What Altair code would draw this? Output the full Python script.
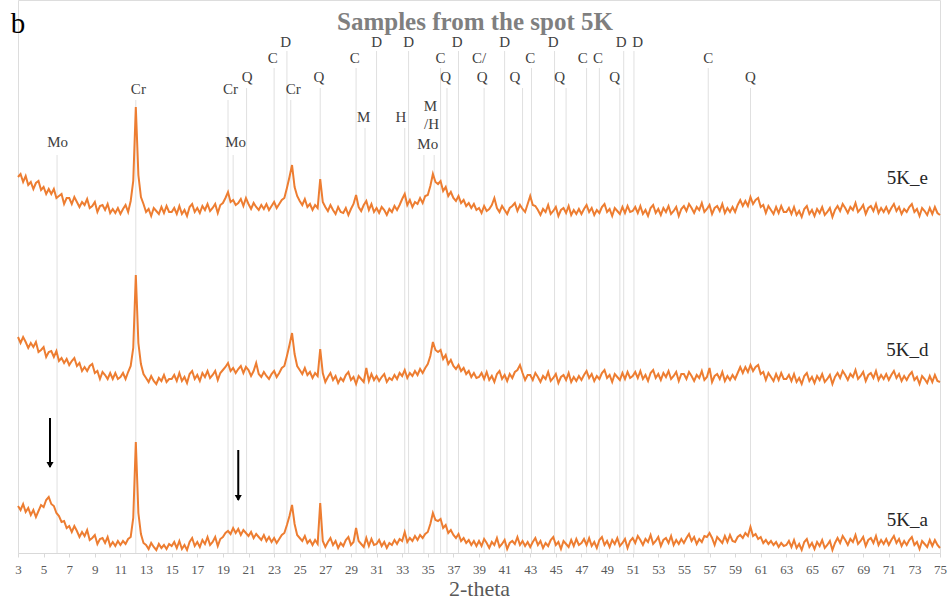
import altair as alt
import pandas as pd

# ---------------- data ----------------
theta_start = 3.0
theta_step = 0.2
n_points = 361
two_theta = [round(theta_start + theta_step * i, 1) for i in range(n_points)]

# intensities (arbitrary units, traces offset as in the figure), one value per 0.2 deg
e_vals = [
    376, 379, 371, 377, 368, 371, 364, 370, 372, 363, 366, 359, 364, 359, 364, 355, 357, 359, 349, 355,
    355, 349, 356, 351, 346, 351, 348, 354, 345, 347, 351, 341, 347, 348, 343, 349, 340, 344, 340, 345,
    339, 344, 348, 341, 352, 372, 446, 378, 356, 349, 341, 344, 337, 345, 342, 339, 346, 340, 347, 341,
    341, 345, 339, 347, 339, 343, 337, 346, 349, 341, 345, 340, 347, 343, 349, 342, 345, 349, 340, 348,
    350, 355, 361, 351, 353, 348, 350, 354, 347, 355, 349, 344, 350, 346, 343, 348, 344, 349, 343, 347,
    351, 345, 349, 353, 355, 365, 376, 388, 366, 357, 352, 348, 354, 346, 349, 343, 348, 345, 374, 351,
    346, 342, 348, 343, 339, 346, 341, 340, 345, 338, 344, 349, 358, 346, 342, 348, 352, 343, 349, 341,
    345, 340, 346, 343, 338, 344, 341, 347, 343, 348, 354, 359, 348, 353, 346, 351, 349, 355, 350, 357,
    358, 367, 379, 371, 369, 372, 362, 366, 357, 361, 355, 352, 357, 350, 353, 347, 350, 345, 349, 343,
    345, 340, 347, 342, 344, 348, 355, 345, 341, 347, 343, 339, 345, 347, 350, 342, 348, 344, 341, 349,
    357, 348, 347, 343, 338, 344, 341, 348, 339, 342, 346, 337, 343, 345, 340, 347, 338, 343, 339, 344,
    339, 344, 348, 341, 345, 338, 343, 340, 346, 349, 341, 344, 337, 345, 342, 339, 346, 340, 347, 341,
    342, 346, 340, 347, 339, 343, 337, 345, 348, 340, 344, 338, 345, 341, 347, 339, 342, 346, 337, 344,
    347, 342, 349, 345, 340, 346, 343, 350, 341, 344, 348, 339, 345, 347, 342, 349, 340, 345, 341, 346,
    341, 348, 353, 347, 352, 347, 356, 349, 353, 355, 346, 348, 340, 347, 343, 339, 346, 340, 347, 341,
    341, 345, 339, 346, 338, 342, 336, 344, 347, 339, 343, 337, 344, 340, 346, 338, 341, 345, 336, 343,
    347, 342, 349, 345, 340, 346, 343, 350, 341, 344, 348, 339, 345, 347, 342, 349, 340, 345, 341, 346,
    340, 345, 349, 342, 346, 339, 344, 341, 346, 349, 341, 344, 337, 345, 342, 338, 345, 339, 346, 340,
    338,
]
d_vals = [
    216, 210, 216, 211, 205, 210, 206, 211, 201, 203, 206, 196, 201, 202, 196, 202, 192, 195, 190, 194,
    188, 192, 195, 187, 190, 182, 186, 182, 187, 189, 180, 182, 174, 181, 178, 174, 180, 174, 180, 174,
    176, 180, 174, 181, 187, 205, 278, 210, 189, 179, 175, 171, 177, 172, 169, 175, 172, 178, 171, 174,
    174, 178, 172, 180, 172, 176, 170, 179, 182, 174, 178, 172, 180, 176, 182, 175, 178, 182, 173, 180,
    183, 186, 190, 182, 185, 180, 184, 187, 180, 186, 183, 177, 182, 190, 179, 176, 181, 177, 174, 179,
    182, 176, 180, 185, 187, 197, 208, 220, 199, 187, 183, 179, 185, 178, 181, 175, 180, 177, 204, 180,
    171, 176, 180, 173, 177, 170, 175, 172, 178, 181, 173, 176, 169, 177, 174, 171, 185, 172, 179, 173,
    177, 172, 176, 179, 171, 175, 173, 178, 174, 180, 177, 183, 175, 180, 177, 182, 178, 184, 180, 185,
    189, 197, 211, 203, 201, 203, 194, 198, 189, 193, 187, 184, 188, 182, 185, 179, 182, 176, 180, 175,
    176, 180, 174, 181, 173, 177, 171, 179, 182, 174, 178, 172, 179, 175, 181, 183, 188, 180, 173, 178,
    178, 173, 180, 176, 171, 177, 174, 181, 172, 175, 179, 170, 176, 178, 173, 180, 171, 176, 172, 177,
    173, 178, 182, 175, 179, 172, 177, 174, 180, 183, 175, 178, 171, 179, 176, 173, 180, 174, 181, 175,
    177, 181, 175, 182, 174, 178, 172, 180, 183, 175, 179, 173, 180, 176, 182, 174, 177, 181, 172, 179,
    179, 174, 181, 177, 172, 178, 175, 182, 173, 176, 185, 171, 177, 179, 174, 181, 172, 177, 173, 178,
    174, 180, 186, 180, 186, 181, 188, 182, 186, 188, 179, 181, 173, 180, 176, 172, 179, 173, 180, 174,
    174, 178, 172, 179, 171, 175, 169, 177, 180, 172, 176, 170, 177, 173, 179, 171, 174, 178, 169, 176,
    180, 175, 182, 178, 173, 179, 176, 183, 174, 177, 181, 172, 178, 180, 175, 182, 173, 178, 174, 179,
    173, 178, 182, 175, 179, 172, 177, 173, 178, 181, 173, 176, 169, 177, 174, 170, 177, 171, 178, 172,
    171,
]
a_vals = [
    47, 43, 49, 41, 45, 38, 43, 36, 42, 48, 46, 53, 56, 49, 47, 40, 37, 31, 32, 25,
    27, 21, 27, 22, 16, 21, 17, 23, 13, 15, 18, 9, 14, 15, 10, 16, 7, 11, 7, 12,
    8, 12, 9, 14, 16, 35, 111, 40, 19, 10, 8, 4, 10, 6, 3, 9, 5, 8, 4, 9,
    7, 11, 5, 12, 4, 8, 3, 11, 15, 7, 11, 6, 13, 9, 16, 8, 11, 16, 7, 14,
    16, 20, 22, 19, 25, 20, 24, 18, 23, 20, 17, 21, 15, 19, 16, 13, 18, 12, 16, 11,
    15, 10, 14, 18, 20, 28, 37, 48, 29, 18, 15, 12, 17, 10, 13, 8, 13, 9, 50, 12,
    6, 11, 15, 8, 12, 5, 10, 7, 13, 16, 8, 11, 25, 12, 9, 6, 15, 7, 14, 8,
    9, 13, 7, 11, 5, 10, 8, 13, 9, 14, 12, 21, 11, 15, 12, 17, 13, 18, 15, 19,
    21, 29, 40, 33, 32, 34, 25, 28, 20, 23, 18, 15, 19, 12, 15, 10, 13, 8, 12, 7,
    12, 7, 14, 10, 5, 11, 8, 15, 6, 9, 13, 4, 10, 12, 9, 16, 8, 12, 7, 11,
    6, 11, 15, 8, 12, 5, 10, 7, 13, 16, 8, 11, 4, 12, 9, 6, 13, 7, 14, 8,
    10, 14, 8, 15, 7, 11, 5, 13, 16, 8, 12, 6, 13, 9, 15, 7, 10, 14, 5, 12,
    15, 10, 17, 13, 8, 14, 11, 18, 9, 12, 16, 7, 13, 15, 10, 17, 8, 13, 9, 14,
    10, 15, 19, 12, 16, 9, 14, 11, 17, 16, 20, 15, 8, 16, 13, 10, 17, 11, 18, 12,
    11, 16, 18, 15, 20, 17, 26, 17, 19, 14, 16, 10, 13, 9, 12, 8, 11, 6, 10, 7,
    8, 12, 6, 13, 5, 9, 3, 11, 14, 6, 10, 4, 11, 7, 13, 5, 8, 12, 3, 10,
    15, 10, 17, 13, 8, 14, 11, 18, 9, 12, 16, 7, 13, 15, 10, 17, 8, 13, 9, 14,
    8, 13, 17, 10, 14, 7, 12, 8, 13, 16, 8, 11, 4, 12, 9, 6, 13, 7, 13, 8,
    5,
]
assert len(e_vals) == n_points and len(d_vals) == n_points and len(a_vals) == n_points

sample_names = ["5K_e", "5K_d", "5K_a"]
sample_label_pos = [72.45, 72.45, 72.45]
sample_label_level = [375, 203, 33]

# reference peak lines (2-theta, top of line)
peak_pos = [6.05, 12.2, 19.4, 19.8, 20.85, 23.0, 24.0, 24.3, 26.6, 29.4, 30.1, 31.0,
            33.2, 33.5, 34.7, 35.5, 36.0, 36.5, 37.4, 39.4, 41.0, 42.4, 43.1, 44.9,
            45.8, 47.4, 48.4, 50.0, 50.3, 51.1, 56.9, 60.2]
peak_top = [398, 453, 453, 398, 465, 485, 502, 453, 465, 485, 425, 502,
            425, 502, 398, 398, 485, 465, 502, 465, 502, 465, 485, 502,
            465, 485, 485, 465, 502, 502, 485, 465]

# mineral labels
label_text = ["Mo", "Cr", "Cr", "Mo", "Q", "C", "D", "Cr", "Q", "C", "M", "D", "H", "D",
              "M", "/H", "Mo", "C", "Q", "D", "C/", "Q", "D", "Q", "C", "D", "Q", "C",
              "C", "Q", "D", "D", "C", "Q"]
label_pos = [6.1, 12.4, 19.6, 20.0, 20.9, 22.9, 23.9, 24.5, 26.5, 29.3, 30.0, 31.0, 32.9, 33.5,
             35.2, 35.3, 35.0, 36.0, 36.4, 37.3, 39.0, 39.25, 41.0, 41.8, 43.0, 44.8, 45.3, 47.1,
             48.3, 49.6, 50.1, 51.4, 56.9, 60.2]
label_level = [411, 464, 464, 411, 476, 495, 511, 464, 476, 495, 436, 511, 436, 511,
               447, 429, 409, 495, 476, 511, 495, 476, 511, 476, 495, 511, 476, 495,
               495, 476, 511, 511, 495, 476]

# arrows (2-theta, tail level, tip level)
arrow_pos = [5.5, 20.2]
arrow_tail = [135, 103]
arrow_tip = [86, 53]

tick_values = list(range(3, 76, 2))

# ---------------- tables ----------------
rows = []
for name, vals in zip(sample_names, [e_vals, d_vals, a_vals]):
    for t, v in zip(two_theta, vals):
        rows.append({"sample": name, "two_theta": t, "intensity": v})
traces = pd.DataFrame(rows)
peaks = pd.DataFrame({"pos": peak_pos, "top": peak_top, "base": [0] * len(peak_pos)})
labels = pd.DataFrame({"text": label_text, "pos": label_pos, "level": label_level})
names = pd.DataFrame({"text": sample_names, "pos": sample_label_pos, "level": sample_label_level})
arrows = pd.DataFrame({"pos": arrow_pos, "tail": arrow_tail, "tip": arrow_tip})

SERIF = "Liberation Serif"
xscale = alt.Scale(domain=[3, 75], nice=False, zero=False)
yscale = alt.Scale(domain=[0, 553], nice=False, zero=False)

xaxis = alt.Axis(values=tick_values, title="2-theta", format="d",
                 labelFont=SERIF, labelFontSize=13, labelColor="#595959",
                 titleFont=SERIF, titleFontSize=22, titleFontWeight="normal",
                 titleColor="#595959", domainColor="#d9d9d9", tickColor="#d9d9d9",
                 tickSize=4, labelPadding=6, titlePadding=2, grid=False,
                 labelOverlap=False, labelFlush=False)

rules = alt.Chart(peaks).mark_rule(color="#e0e0e0", strokeWidth=1).encode(
    x=alt.X("pos:Q", scale=xscale, axis=xaxis),
    y=alt.Y("top:Q", scale=yscale, axis=None),
    y2="base:Q",
)

lines = alt.Chart(traces).mark_line(color="#ED7D31", strokeWidth=2.0).encode(
    x=alt.X("two_theta:Q", scale=xscale, axis=xaxis),
    y=alt.Y("intensity:Q", scale=yscale, axis=None),
    detail="sample:N",
)

mineral = alt.Chart(labels).mark_text(font=SERIF, fontSize=15, color="#404040",
                                      baseline="middle").encode(
    x=alt.X("pos:Q", scale=xscale, axis=xaxis),
    y=alt.Y("level:Q", scale=yscale, axis=None),
    text="text:N",
)

sample_txt = alt.Chart(names).mark_text(font=SERIF, fontSize=19, color="#262626",
                                        baseline="middle").encode(
    x=alt.X("pos:Q", scale=xscale, axis=xaxis),
    y=alt.Y("level:Q", scale=yscale, axis=None),
    text="text:N",
)

arrow_shaft = alt.Chart(arrows).mark_rule(color="black", strokeWidth=2).encode(
    x=alt.X("pos:Q", scale=xscale, axis=xaxis),
    y=alt.Y("tail:Q", scale=yscale, axis=None),
    y2="tip:Q",
)
arrow_head = alt.Chart(arrows).mark_point(shape="triangle-down", filled=True, color="black",
                                          size=50, opacity=1, yOffset=-2).encode(
    x=alt.X("pos:Q", scale=xscale, axis=xaxis),
    y=alt.Y("tip:Q", scale=yscale, axis=None),
)

title_df = pd.DataFrame({"t": ["Samples from the spot 5K"]})
title = alt.Chart(title_df).mark_text(font=SERIF, fontSize=25, fontWeight="bold",
                                      color="#7f7f7f", baseline="alphabetic").encode(
    x=alt.value(457), y=alt.value(30), text="t:N")
panel_df = pd.DataFrame({"t": ["b"]})
panel = alt.Chart(panel_df).mark_text(font=SERIF, fontSize=29, color="black",
                                      baseline="alphabetic").encode(
    x=alt.value(0), y=alt.value(33), text="t:N")

chart = alt.layer(rules, lines, mineral, sample_txt, arrow_shaft, arrow_head, title, panel).properties(
    width=922, height=553,
    autosize=alt.AutoSizeParams(type="none"),
    padding={"left": 18, "top": 0, "right": 12, "bottom": 60},
).configure_view(stroke=None).configure_axisX(labelOverlap=False).configure(background="white")

chart.save("out.html", embed_options={"renderer": "svg", "actions": False})
